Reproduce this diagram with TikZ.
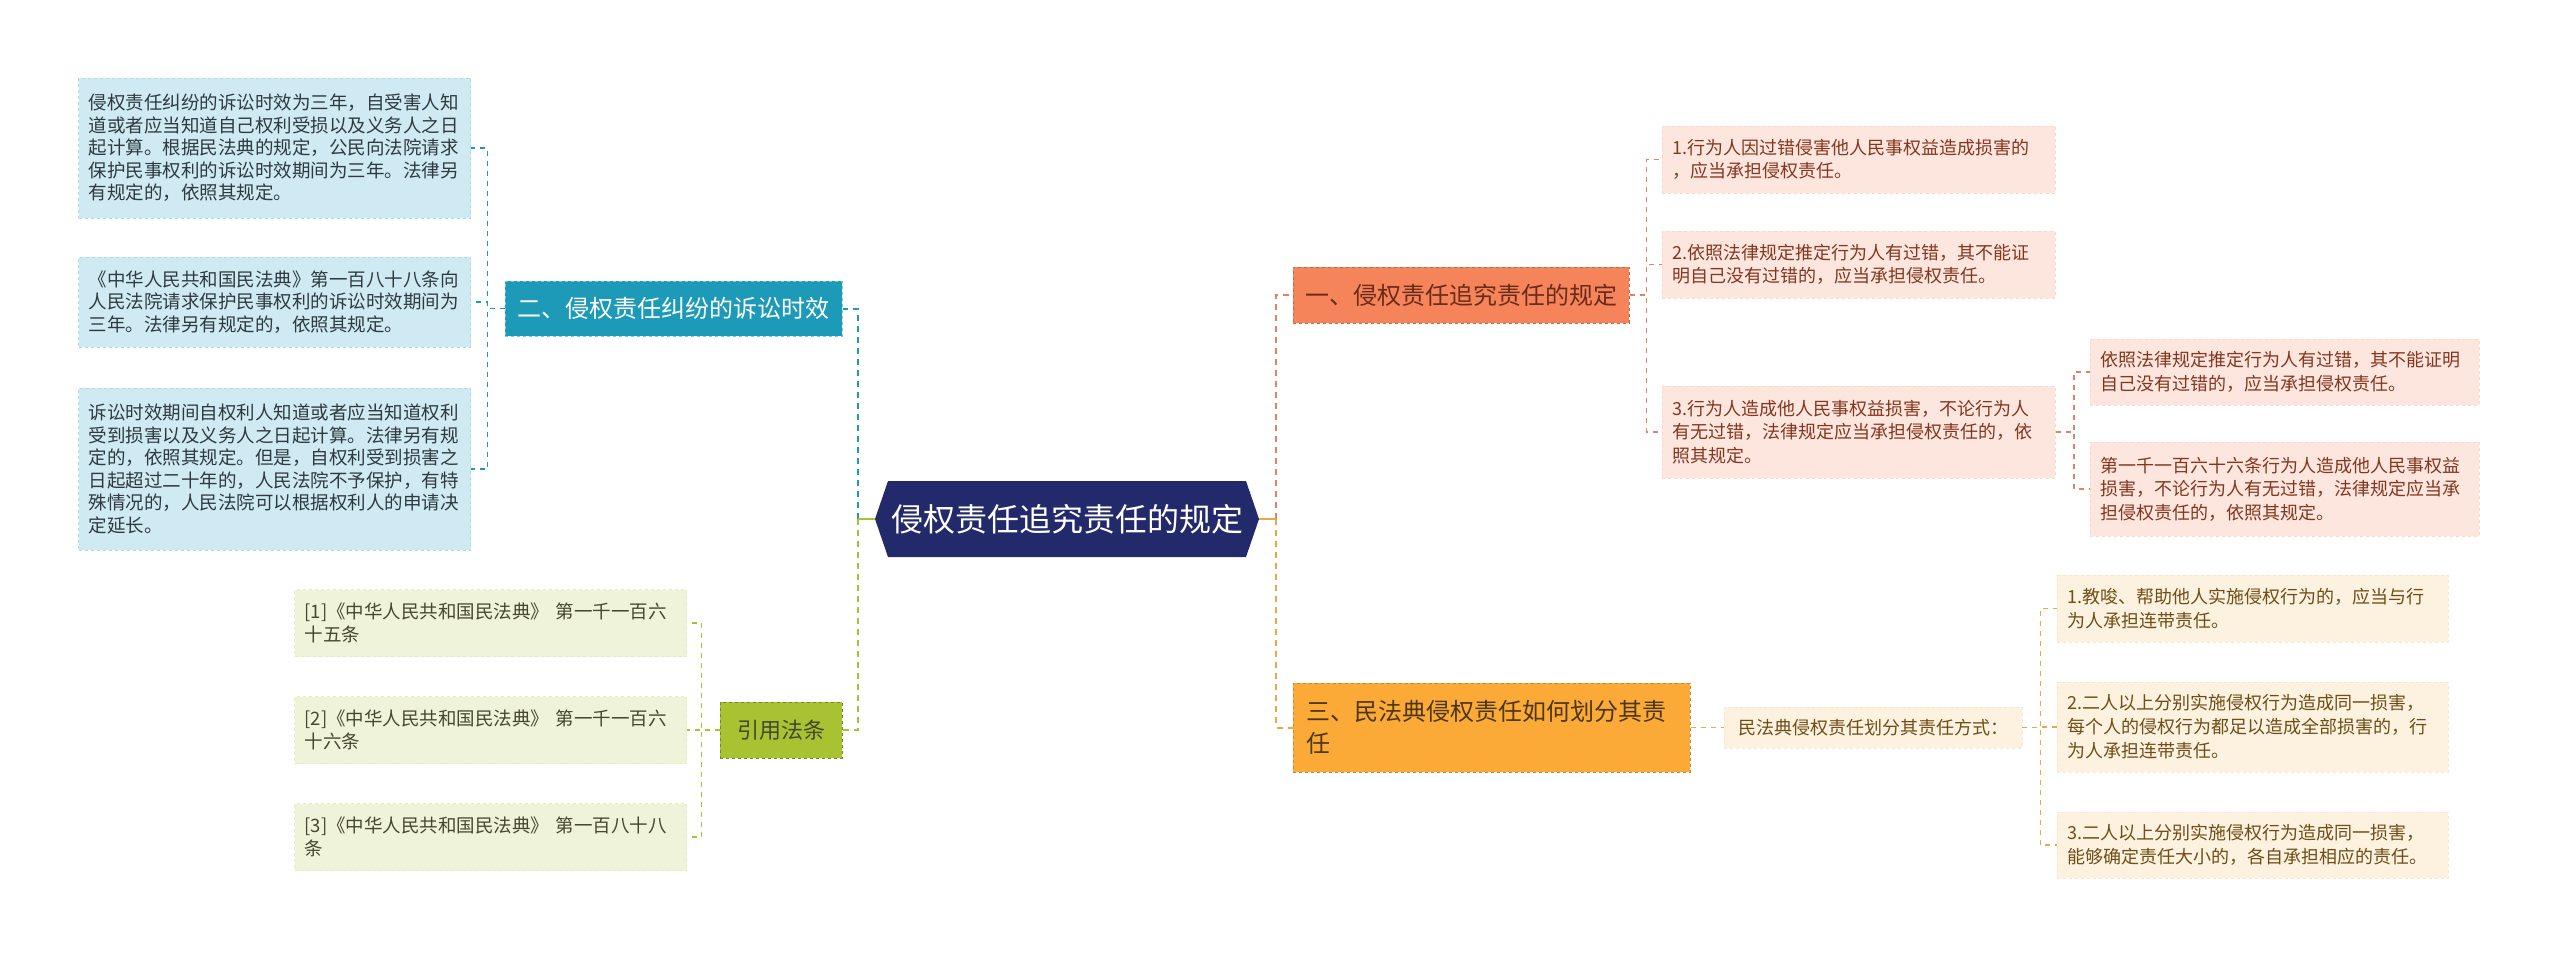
\documentclass[tikz,border=0pt]{standalone}
\usepackage{fontspec}
\setmainfont{Noto Sans CJK SC}

\definecolor{navy}{HTML}{222A6B}
\definecolor{tealh}{HTML}{1C9AB8}
\definecolor{tealf}{HTML}{CFEAF2}
\definecolor{tealt}{HTML}{2E3A3F}
\definecolor{limeh}{HTML}{A8C232}
\definecolor{limef}{HTML}{EFF3DA}
\definecolor{limet}{HTML}{45472E}
\definecolor{coralh}{HTML}{F5845A}
\definecolor{coralc}{HTML}{E2825E}
\definecolor{coralf}{HTML}{FDE6DE}
\definecolor{coralt}{HTML}{84361F}
\definecolor{amberh}{HTML}{FBAA38}
\definecolor{amberc}{HTML}{EFA646}
\definecolor{amberf}{HTML}{FDF1DF}
\definecolor{ambert}{HTML}{6E4E17}

\tikzset{
  head/.style={inner sep=0pt, draw, dashed, line width=1pt, font=\fontsize{24}{32}\selectfont},
  leaf/.style={inner xsep=10pt, inner ysep=0pt, align=left, draw, dashed, line width=0.8pt},
  mainline/.style={line width=2pt, dash pattern=on 6pt off 5pt},
  leafline/.style={line width=1.5pt, dash pattern=on 5pt off 5pt}
}

\begin{document}
\begin{tikzpicture}[x=1pt,y=-1pt]
\fill[white] (0,0) rectangle (2560,959);
\useasboundingbox (0,0) rectangle (2560,959);

% central topic
\node[minimum width=384pt, minimum height=76pt, inner sep=0pt, text=white,
  font=\fontsize{32}{38}\selectfont,
  path picture={\fill[navy] (path picture bounding box.west)
    -- ([xshift=13pt]path picture bounding box.north west)
    -- ([xshift=-13pt]path picture bounding box.north east)
    -- (path picture bounding box.east)
    -- ([xshift=-13pt]path picture bounding box.south east)
    -- ([xshift=13pt]path picture bounding box.south west) -- cycle;}]
  (hub) at (1067,519) {侵权责任追究责任的规定};

% main branches
\node[head, fill=tealh, draw=tealh!55!white, text=white, minimum width=337pt, minimum height=55pt]
  (h2) at (673.5,308.5) {二、侵权责任纠纷的诉讼时效};
\node[head, fill=limeh, draw=limeh!70!black, text=limet, minimum width=122pt, minimum height=56pt,
  font=\fontsize{22}{28}\selectfont] (h4) at (781,730) {引用法条};
\node[head, fill=coralh, draw=coralh!80!black, text=coralt!80!black, minimum width=336pt, minimum height=56pt]
  (h1) at (1461,295) {一、侵权责任追究责任的规定};
\node[head, fill=amberh, draw=amberh!80!black, text=ambert!70!black, align=left, text width=371pt,
  inner xsep=13pt, minimum height=89pt] (h3) at (1491.5,727.5) {三、民法典侵权责任如何划分其责\\任};
\node[leaf, fill=amberf, draw=amberf!85!amberh, text=ambert, minimum width=298pt, minimum height=41pt,
  inner xsep=0pt, align=center, font=\fontsize{18}{24}\selectfont] (M) at (1873,727.5) {民法典侵权责任划分其责任方式：};

% teal leaves
\tikzset{tl/.style={leaf, anchor=east, fill=tealf, draw=tealf!80!tealh, text=tealt, text width=372pt,
  font=\fontsize{18.5}{22.5}\selectfont}}
\node[tl, minimum height=140pt] (L1) at (471,148) {侵权责任纠纷的诉讼时效为三年，自受害人知\\道或者应当知道自己权利受损以及义务人之日\\起计算。根据民法典的规定，公民向法院请求\\保护民事权利的诉讼时效期间为三年。法律另\\有规定的，依照其规定。};
\node[tl, minimum height=90pt] (L2) at (471,302) {《中华人民共和国民法典》第一百八十八条向\\人民法院请求保护民事权利的诉讼时效期间为\\三年。法律另有规定的，依照其规定。};
\node[tl, minimum height=162pt] (L3) at (471,469) {诉讼时效期间自权利人知道或者应当知道权利\\受到损害以及义务人之日起计算。法律另有规\\定的，依照其规定。但是，自权利受到损害之\\日起超过二十年的，人民法院不予保护，有特\\殊情况的，人民法院可以根据权利人的申请决\\定延长。};

% green leaves
\tikzset{gl/.style={leaf, anchor=east, fill=limef, draw=limef!85!limeh, text=limet, text width=372pt,
  minimum height=67pt, font=\fontsize{18.5}{23}\selectfont}}
\node[gl] (G1) at (687,623) {[1]《中华人民共和国民法典》 第一千一百六\\十五条};
\node[gl] (G2) at (687,730) {[2]《中华人民共和国民法典》 第一千一百六\\十六条};
\node[gl] (G3) at (687,837) {[3]《中华人民共和国民法典》 第一百八十八\\条};

% coral leaves
\tikzset{cl/.style={leaf, anchor=west, fill=coralf, draw=coralf!85!coralh, text=coralt, text width=373pt,
  font=\fontsize{18}{23.5}\selectfont}}
\node[cl, minimum height=67pt] (R1) at (1662,159.5) {1.行为人因过错侵害他人民事权益造成损害的\\，应当承担侵权责任。};
\node[cl, minimum height=67pt] (R2) at (1662,264.5) {2.依照法律规定推定行为人有过错，其不能证\\明自己没有过错的，应当承担侵权责任。};
\node[cl, minimum height=92pt] (R3) at (1662,432) {3.行为人造成他人民事权益损害，不论行为人\\有无过错，法律规定应当承担侵权责任的，依\\照其规定。};
\node[cl, text width=369pt, minimum height=66pt] (S1) at (2090,372) {依照法律规定推定行为人有过错，其不能证明\\自己没有过错的，应当承担侵权责任。};
\node[cl, text width=369pt, minimum height=94pt] (S2) at (2090,489) {第一千一百六十六条行为人造成他人民事权益\\损害，不论行为人有无过错，法律规定应当承\\担侵权责任的，依照其规定。};

% amber leaves
\tikzset{al/.style={leaf, anchor=west, fill=amberf, draw=amberf!85!amberh, text=ambert, text width=371pt,
  font=\fontsize{18}{24}\selectfont}}
\node[al, minimum height=67pt] (A1) at (2057,608.5) {1.教唆、帮助他人实施侵权行为的，应当与行\\为人承担连带责任。};
\node[al, minimum height=90pt] (A2) at (2057,727) {2.二人以上分别实施侵权行为造成同一损害，\\每个人的侵权行为都足以造成全部损害的，行\\为人承担连带责任。};
\node[al, minimum height=66pt] (A3) at (2057,845) {3.二人以上分别实施侵权行为造成同一损害，\\能够确定责任大小的，各自承担相应的责任。};

% connectors
\coordinate (jl) at ([xshift=-17pt]hub.west);
\coordinate (jr) at ([xshift=17pt]hub.east);
\draw[mainline, tealh] (jl) |- (h2.east);
\draw[mainline, limeh] (jl) |- (h4.east);
\draw[line width=2pt, limeh] (hub.west) -- (jl);
\draw[mainline, coralc] (jr) |- (h1.west);
\draw[mainline, amberc] (jr) |- (h3.west);
\draw[line width=2pt, amberc] (hub.east) -- (jr);

\foreach \k in {L1,L2,L3} \draw[leafline, tealh] (h2.west) -- ++(-17,0) |- (\k.east);
\foreach \k in {G1,G2,G3} \draw[leafline, limeh] (h4.west) -- ++(-18,0) |- (\k.east);
\foreach \k in {R1,R2,R3} \draw[leafline, coralc] (h1.east) -- ++(17,0) |- (\k.west);
\foreach \k in {S1,S2} \draw[leafline, coralc] (R3.east) -- ++(18,0) |- (\k.west);
\draw[leafline, amberc] (h3.east) -- (M.west);
\foreach \k in {A1,A2,A3} \draw[leafline, amberc] (M.east) -- ++(18,0) |- (\k.west);
\end{tikzpicture}
\end{document}
